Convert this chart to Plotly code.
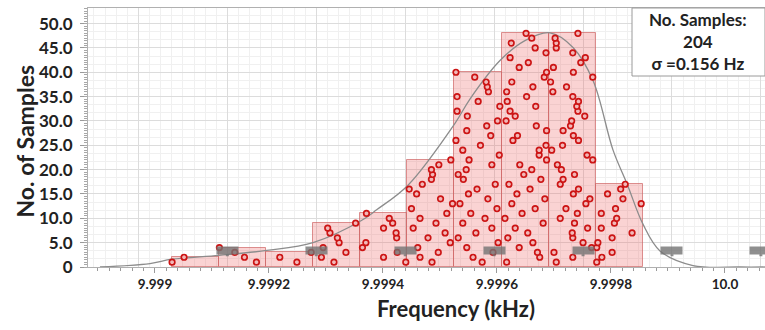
import plotly.graph_objects as go

# ---------------- data ----------------
bin_edges_hz = [9999.030, 9999.112, 9999.195, 9999.278, 9999.360, 9999.443,
                9999.525, 9999.608, 9999.691, 9999.773, 9999.856]
bin_counts = [2, 4, 3, 9, 11, 22, 40, 48, 48, 17]

# individual samples, one list per bin, ordered by stacked level
bin1_hz = [9999.030, 9999.051]
bin2_hz = [9999.178, 9999.157, 9999.140, 9999.113]
bin3_hz = [9999.249, 9999.219, 9999.274]
bin4_hz = [9999.314, 9999.292, 9999.335, 9999.295, 9999.323, 9999.320, 9999.307, 9999.303, 9999.352]
bin5_hz = [9999.440, 9999.401, 9999.425, 9999.364, 9999.370, 9999.424, 9999.423, 9999.401, 9999.417,
           9999.411, 9999.371]
bin6_hz = [9999.486, 9999.465, 9999.497, 9999.461, 9999.518, 9999.479, 9999.509, 9999.453, 9999.493,
           9999.465, 9999.512, 9999.450, 9999.522, 9999.501, 9999.459, 9999.446, 9999.469, 9999.485,
           9999.487, 9999.485, 9999.498, 9999.519]
bin7_hz = [9999.574, 9999.558, 9999.593, 9999.547, 9999.602, 9999.532, 9999.563, 9999.591, 9999.540,
           9999.579, 9999.554, 9999.600, 9999.535, 9999.584, 9999.550, 9999.565, 9999.597, 9999.541,
           9999.532, 9999.546, 9999.591, 9999.551, 9999.604, 9999.540, 9999.571, 9999.528, 9999.589,
           9999.547, 9999.582, 9999.601, 9999.548, 9999.530, 9999.605, 9999.567, 9999.530, 9999.585,
           9999.583, 9999.581, 9999.561, 9999.528]
bin8_hz = [9999.617, 9999.675, 9999.671, 9999.639, 9999.663, 9999.619, 9999.654, 9999.632, 9999.681,
           9999.614, 9999.644, 9999.667, 9999.626, 9999.684, 9999.635, 9999.658, 9999.621, 9999.677,
           9999.647, 9999.661, 9999.640, 9999.687, 9999.674, 9999.674, 9999.686, 9999.628, 9999.636,
           9999.687, 9999.669, 9999.616, 9999.632, 9999.623, 9999.668, 9999.618, 9999.652, 9999.617,
           9999.663, 9999.626, 9999.683, 9999.687, 9999.639, 9999.655, 9999.623, 9999.686, 9999.667,
           9999.625, 9999.661, 9999.651]
bin9_hz = [9999.704, 9999.733, 9999.700, 9999.766, 9999.751, 9999.733, 9999.732, 9999.759, 9999.736,
           9999.711, 9999.741, 9999.721, 9999.756, 9999.763, 9999.734, 9999.743, 9999.711, 9999.716,
           9999.736, 9999.713, 9999.706, 9999.768, 9999.758, 9999.696, 9999.715, 9999.743, 9999.734,
           9999.716, 9999.729, 9999.731, 9999.754, 9999.742, 9999.740, 9999.743, 9999.733, 9999.698,
           9999.722, 9999.694, 9999.768, 9999.734, 9999.699, 9999.747, 9999.755, 9999.733, 9999.704,
           9999.704, 9999.702, 9999.742]
bin10_hz = [9999.775, 9999.784, 9999.802, 9999.775, 9999.777, 9999.802, 9999.837, 9999.783, 9999.806,
            9999.810, 9999.783, 9999.808, 9999.853, 9999.821, 9999.794, 9999.817, 9999.825]

bin1_lv = [1, 2]
bin2_lv = [1, 2, 3, 4]
bin3_lv = [1, 2, 3]
bin4_lv = [1, 2, 3, 4, 5, 6, 7, 8, 9]
bin5_lv = [1, 2, 3, 4, 5, 6, 7, 8, 9, 10, 11]
bin6_lv = [1, 2, 3, 4, 5, 6, 7, 8, 9, 10, 11, 12, 13, 14, 15, 16, 17, 18, 19, 20, 21, 22]
bin7_lv = [1, 2, 3, 4, 5, 6, 7, 8, 9, 10, 11, 12, 13, 14, 15, 16, 17, 18, 19, 20,
           21, 22, 23, 24, 25, 26, 27, 28, 29, 30, 31, 32, 33, 34, 35, 36, 37, 38, 39, 40]
bin8_lv = [1, 2, 3, 4, 5, 6, 7, 8, 9, 10, 11, 12, 13, 14, 15, 16, 17, 18, 19, 20, 21, 22, 23, 24,
           25, 26, 27, 28, 29, 30, 31, 32, 33, 34, 35, 36, 37, 38, 39, 40, 41, 42, 43, 44, 45, 46, 47, 48]
bin9_lv = [1, 2, 3, 4, 5, 6, 7, 8, 9, 10, 11, 12, 13, 14, 15, 16, 17, 18, 19, 20, 21, 22, 23, 24,
           25, 26, 27, 28, 29, 30, 31, 32, 33, 34, 35, 36, 37, 38, 39, 40, 41, 42, 43, 44, 45, 46, 47, 48]
bin10_lv = [1, 2, 3, 4, 5, 6, 7, 8, 9, 10, 11, 12, 13, 14, 15, 16, 17]

# fitted distribution curve
curve_hz = [9998.9035, 9998.9912, 9999.0298, 9999.1123, 9999.1965, 9999.2772, 9999.3614,
            9999.3895, 9999.4439, 9999.5263, 9999.5526, 9999.6053, 9999.6491, 9999.6930,
            9999.7334, 9999.7685, 9999.8036, 9999.8281, 9999.8561, 9999.8860, 9999.9439,
            10000.0263, 10000.0700]
curve_count = [0.0, 0.7, 1.6, 2.4, 3.4, 5.0, 9.5, 11.8, 16.8, 29.5, 34.5, 42.4, 46.5, 48.1,
               45.1, 38.3, 24.0, 17.1, 8.8, 3.3, 0.3, 0.0, 0.0]

mean_hz = 9999.595
sigma_hz = 0.156
n_samples = 204

x_tickvals_khz = [9.999, 9.9992, 9.9994, 9.9996, 9.9998, 10.0]
x_ticktext = ["9.999", "9.9992", "9.9994", "9.9996", "9.9998", "10.0"]
y_tickvals = [0, 5, 10, 15, 20, 25, 30, 35, 40, 45, 50]
y_ticktext = ["0", "5.0", "10.0", "15.0", "20.0", "25.0", "30.0", "35.0", "40.0", "45.0", "50.0"]

x_range_khz = [9.9988825, 10.0000702]
y_range = [0, 53.2]

# ---------------- build ----------------
centers = [(a + b) / 2000.0 for a, b in zip(bin_edges_hz[:-1], bin_edges_hz[1:])]
widths = [(b - a) / 1000.0 for a, b in zip(bin_edges_hz[:-1], bin_edges_hz[1:])]

all_hz = bin1_hz + bin2_hz + bin3_hz + bin4_hz + bin5_hz + bin6_hz + bin7_hz + bin8_hz + bin9_hz + bin10_hz
all_lv = bin1_lv + bin2_lv + bin3_lv + bin4_lv + bin5_lv + bin6_lv + bin7_lv + bin8_lv + bin9_lv + bin10_lv

FONT = "Lato"
TXT = "#222222"

fig = go.Figure()
fig.add_trace(go.Bar(x=centers, y=bin_counts, width=widths,
                     marker=dict(color="rgba(238,110,110,0.30)",
                                 line=dict(color="rgba(205,100,100,0.7)", width=1))))
fig.add_trace(go.Scatter(x=[h / 1000 for h in curve_hz], y=curve_count, mode="lines",
                         line=dict(color="#8c8c8c", width=1.3, shape="spline", smoothing=1.0)))
fig.add_trace(go.Scatter(x=[h / 1000 for h in all_hz], y=all_lv, mode="markers",
                         marker=dict(symbol="circle", size=5.5, color="#f2b8b8",
                                     line=dict(color="#cc1414", width=1.7))))
# helper traces so the overlay grid axes are drawn
fig.add_trace(go.Scatter(x=[], y=[], xaxis="x2", yaxis="y", showlegend=False))
fig.add_trace(go.Scatter(x=[], y=[], xaxis="x", yaxis="y2", showlegend=False))

tick_font = dict(family=FONT, size=13.5, color=TXT, weight="bold")

fig.update_layout(
    width=765, height=330,
    margin=dict(l=88, r=0, t=8, b=63),
    plot_bgcolor="white", paper_bgcolor="white",
    showlegend=False, bargap=0,
    font=dict(family=FONT, color=TXT),
    xaxis=dict(range=x_range_khz, tickmode="array", tickvals=x_tickvals_khz, ticktext=x_ticktext,
               showgrid=False, zeroline=False, ticks="outside", ticklen=5, tickcolor="#9a9a9a",
               showline=True, linecolor="#b0b0b0", mirror=True, tickfont=tick_font,
               minor=dict(ticks="outside", tickmode="linear", tick0=9.999, dtick=0.00002,
                          ticklen=3, tickcolor="#9a9a9a", showgrid=False)),
    xaxis2=dict(overlaying="x", anchor="y", side="top", range=x_range_khz,
                tickmode="linear", tick0=mean_hz / 1000, dtick=sigma_hz / 1000,
                showticklabels=False, ticks="", zeroline=False, showline=False,
                showgrid=True, gridcolor="#dcdcdc", gridwidth=1,
                minor=dict(tickmode="linear", tick0=mean_hz / 1000, dtick=sigma_hz / 8000,
                           showgrid=True, gridcolor="#f0f0f0", ticks="")),
    yaxis=dict(range=y_range, tickmode="array", tickvals=y_tickvals, ticktext=y_ticktext,
               showgrid=True, gridcolor="#dcdcdc", zeroline=False,
               ticks="outside", ticklen=7, tickcolor="#9a9a9a", ticklabelstandoff=4,
               showline=True, linecolor="#b0b0b0", mirror=True,
               tickfont=dict(family=FONT, size=17, color=TXT, weight="bold"),
               minor=dict(tickmode="linear", tick0=0, dtick=5 / 3, showgrid=True,
                          gridcolor="#f0f0f0", ticks="")),
    yaxis2=dict(overlaying="y", anchor="x", side="left", range=y_range,
                tickmode="linear", tick0=0, dtick=0.5, ticks="outside", ticklen=3,
                tickcolor="#a8a8a8", showticklabels=False, showgrid=False,
                zeroline=False, showline=False),
)

PW = 765 - 88
PH = 330 - 8 - 63

annotations = []
# axis titles
annotations.append(dict(text="No. of Samples", xref="paper", yref="paper",
                        x=(24 - 88) / PW, y=(267 - 141.5) / PH, textangle=-90,
                        showarrow=False, xanchor="center", yanchor="middle",
                        font=dict(family=FONT, size=23, color=TXT, weight="bold")))
annotations.append(dict(text="Frequency (kHz)", xref="paper", yref="paper",
                        x=(456 - 88) / PW, y=(267 - 308) / PH,
                        showarrow=False, xanchor="center", yanchor="middle",
                        font=dict(family=FONT, size=22, color=TXT, weight="bold")))
# statistics box text
annotations.append(dict(text=f"No. Samples:<br>{n_samples}<br>σ ={sigma_hz:.3f} Hz",
                        xref="paper", yref="paper",
                        x=(698 - 88) / PW, y=(267 - 42) / PH,
                        showarrow=False, xanchor="center", yanchor="middle", align="center",
                        font=dict(family=FONT, size=17, color=TXT, weight="bold")))
# gray marker flags at mean ± k·sigma
for k in range(-3, 4):
    annotations.append(dict(text="\u00a0", x=(mean_hz + k * sigma_hz) / 1000, y=2.2,
                            xref="x", yref="y", showarrow=True, ax=0, ay=-6,
                            arrowhead=0, arrowwidth=3, arrowcolor="rgba(115,115,115,0.8)",
                            width=19, height=5, bgcolor="rgba(115,115,115,0.8)",
                            borderpad=1, font=dict(size=5)))
fig.update_layout(annotations=annotations)

fig.add_shape(type="rect", xref="paper", yref="paper",
              x0=(632 - 88) / PW, x1=1.0, y0=(267 - 76) / PH, y1=1.0,
              line=dict(color="#9a9a9a", width=1), fillcolor="white", layer="above")

fig.write_html("out.html")
